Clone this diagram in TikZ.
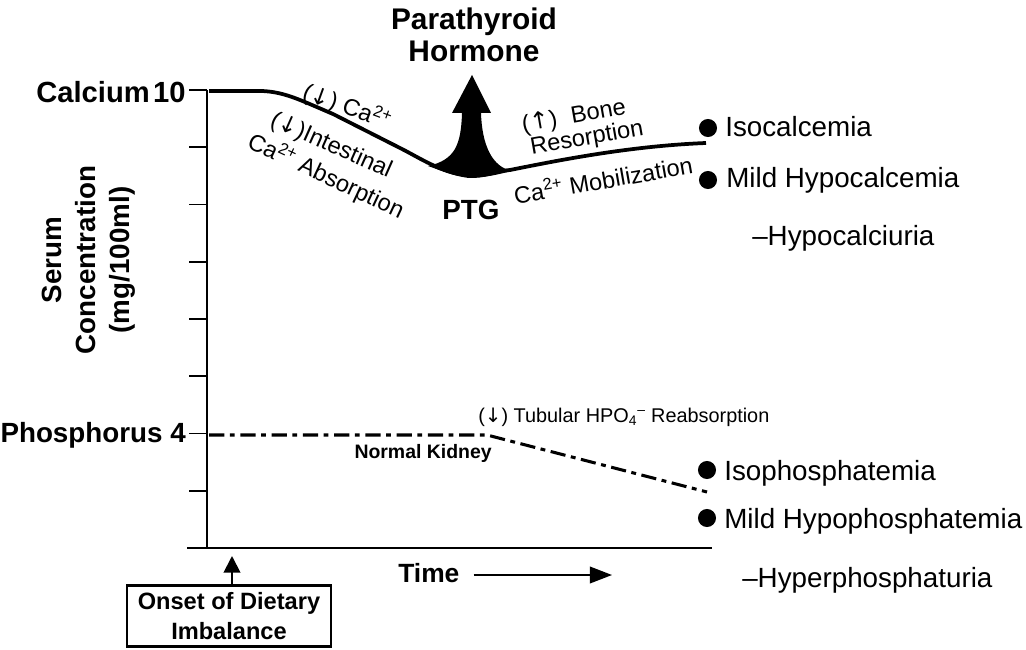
\documentclass[tikz,border=0pt]{standalone}
\usepackage{fontspec}
\setmainfont{Liberation Sans}
\newfontfamily\arrowfont{DejaVu Sans}
\usepackage{tikz}
\usetikzlibrary{arrows.meta, positioning}

\newcommand{\arrdown}{({\arrowfont\char"2193})}
\newcommand{\arrup}{({\arrowfont\char"2191})}
\newcommand{\caion}{Ca\textsuperscript{2+}}

\begin{document}
\begin{tikzpicture}[x=0.72pt, y=-0.72pt,
    axis/.style={line width=1.4pt},
    calcline/.style={line width=2.7pt, line join=round},
    phosline/.style={line width=2.2pt, dash pattern=on 11pt off 4pt on 3.5pt off 4pt},
    axislbl/.style={font=\bfseries\fontsize{21}{25}\selectfont, inner sep=0pt},
    curvelbl/.style={font=\fontsize{17}{20}\selectfont, inner sep=0pt},
    sidelbl/.style={font=\fontsize{20}{24}\selectfont, inner sep=0pt, anchor=base west},
    dot/.style={circle, fill=black, inner sep=0pt, minimum size=13pt}]
  \useasboundingbox (0,0) rectangle (1026,650);

  % axes and ticks
  \draw[axis] (207,90) -- (207,548);
  \draw[axis] (187,548) -- (712,548);
  \foreach \i in {0,...,8}
    \draw[axis] (189,{90+57.25*\i}) -- (207,{90+57.25*\i});

  \node[axislbl, anchor=base east] (calcium) at (186,102.5) {Calcium\hspace{0.12em}10};
  \node[axislbl, anchor=base east, font=\bfseries\fontsize{20}{24}\selectfont]
    (phosphorus) at (186,442) {Phosphorus 4};
  \node[axislbl, rotate=90, align=center, font=\bfseries\fontsize{20}{24.5}\selectfont]
    (serum) at (89,260) {Serum\\Concentration\\(mg/100ml)};

  % calcium curve and the PTG response
  \draw[calcline] (209,91) -- (262,91) .. controls (285,92) and (300,100) .. (333,114)
    -- (400,148) .. controls (420,158) and (440,172) .. (468,176)
    .. controls (485,177) and (495,171) .. (510,170)
    .. controls (560,160) and (630,146) .. (706,143);
  \fill (428,166) .. controls (455,160) and (461,145) .. (462,113) -- (452,113) -- (472,75)
    -- (491,113) -- (481,113) .. controls (482,145) and (492,167) .. (512,171)
    .. controls (495,175) and (485,178) .. (468,177) .. controls (452,176) and (440,170) .. cycle;

  \node[align=center, font=\bfseries\fontsize{21.5}{23}\selectfont, inner sep=0pt]
    (pth) at (474,35) {Parathyroid\\Hormone};
  \node[font=\bfseries\fontsize{20}{24}\selectfont, inner sep=0pt] (ptg) at (471,210) {PTG};

  \node[curvelbl, rotate=-20] (cadrop) at (347,107) {\arrdown\ \caion};
  \node[curvelbl, rotate=-24] (intestinal) at (331,146) {\arrdown Intestinal};
  \node[curvelbl, rotate=-25] (absorption) at (326,176) {\caion\ Absorption};
  \node[curvelbl, rotate=10] (bone) at (574,117) {\arrup\hspace{0.6em}Bone};
  \node[curvelbl, rotate=10] (resorption) at (587,139) {Resorption};
  \node[curvelbl, rotate=10] (mobilization) at (603,179) {\caion\ Mobilization};

  % phosphorus curve
  \draw[phosline] (209,435) -- (487,435) -- (707,492);
  \node[font=\fontsize{14.3}{17}\selectfont, anchor=base west, inner sep=0pt]
    (tubular) at (478,422) {\arrdown\ Tubular HPO\textsubscript{4}\textsuperscript{--} Reabsorption};
  \node[font=\bfseries\fontsize{14}{17}\selectfont, anchor=base east, inner sep=0pt]
    (kidney) at (492,458) {Normal Kidney};

  % outcomes
  \node[dot] (isocadot) at (708,128) {};
  \node[sidelbl] (isoca) at (725,137) {Isocalcemia};
  \node[dot] (hypocadot) at (708,180) {};
  \node[sidelbl] (hypoca) at (726,187) {Mild Hypocalcemia};
  \node[sidelbl] (hypocau) at (752,245) {--Hypocalciuria};
  \node[dot] (isopdot) at (707,470) {};
  \node[dot] (hypopdot) at (707,518) {};
  \node[sidelbl] (isop) at (724,480) {Isophosphatemia};
  \node[sidelbl] (hypop) at (724,528) {Mild Hypophosphatemia};
  \node[sidelbl] (hyperpu) at (742,587) {--Hyperphosphaturia};

  % time axis
  \node[font=\bfseries\fontsize{19}{23}\selectfont, anchor=base west, inner sep=0pt]
    (time) at (398,582) {Time};
  \coordinate (timetip) at (612,575);
  \draw[line width=1.4pt, -{Triangle[length=16pt, width=12pt]}]
    ([xshift=10pt]time.east |- timetip) -- (timetip);

  \node[draw, line width=1.8pt, align=center, font=\bfseries\fontsize{17}{21}\selectfont,
        minimum width=147pt, minimum height=44pt, inner sep=2pt]
    (onset) at (229,616) {Onset of Dietary\\Imbalance};
  \coordinate (onsettip) at (232,556);
  \draw[line width=1.4pt, -{Triangle[length=12pt, width=12pt]}]
    (onset.north -| onsettip) -- (onsettip);
\end{tikzpicture}
\end{document}
